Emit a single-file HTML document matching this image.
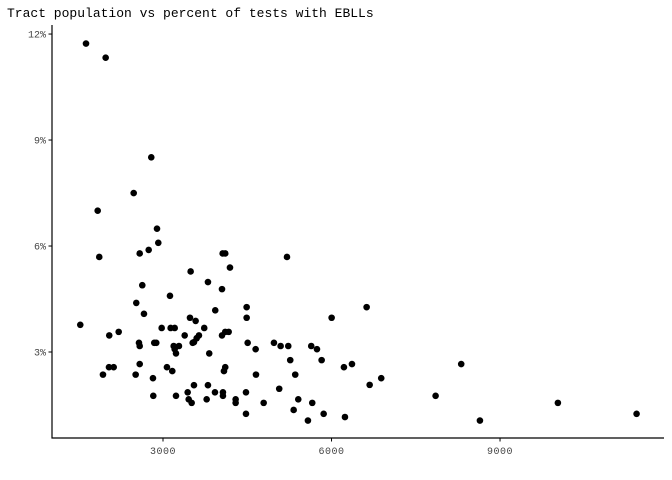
<!DOCTYPE html>
<html><head><meta charset="utf-8">
<style>
html,body{margin:0;padding:0;background:#fff;}
svg{display:block;}
</style></head>
<body>
<svg id="chart" width="672" height="480" xmlns="http://www.w3.org/2000/svg">
<text x="7" y="17" font-family="Liberation Mono, monospace" font-size="13" fill="#000">Tract population vs percent of tests with EBLLs</text>
<line x1="52" y1="25" x2="52" y2="438.5" stroke="#000" stroke-width="1.2"/>
<line x1="51.5" y1="438" x2="664" y2="438" stroke="#000" stroke-width="1.2"/>
<g id="ticks"></g>
<g id="points"></g>
</svg>
<script>
const popX = [1629,1979,2791,2478,1837,2893,2916,2745,2585,1865,4062,4108,5207,3492,4192,3800,4050,2631,2524,3124,2661,3930,4489,4489,1527,2211,2043,2976,3136,3208,3480,3581,3734,3386,3640,3599,3551,3528,4050,4108,4169,2572,2585,2844,2880,3190,3284,3208,3231,3823,4507,4649,4975,5094,5230,5639,5741,6002,5265,5824,2038,2122,1931,2585,2513,2821,3070,3165,4108,4085,4655,5354,6221,6364,3551,3800,2827,3231,3439,3457,3510,3777,3925,4067,4067,4293,4293,4477,4477,4792,5069,5326,5408,5657,5860,5580,6239,6625,6679,6885,7853,8309,8642,10030,11431];
const pctY = [11.73,11.33,8.51,7.50,7.00,6.49,6.09,5.89,5.79,5.69,5.79,5.79,5.69,5.28,5.39,4.98,4.78,4.89,4.39,4.59,4.08,4.18,4.27,3.97,3.77,3.57,3.47,3.68,3.68,3.68,3.97,3.88,3.68,3.47,3.47,3.39,3.28,3.26,3.47,3.57,3.57,3.26,3.17,3.26,3.26,3.17,3.17,3.08,2.96,2.96,3.26,3.08,3.26,3.17,3.17,3.17,3.08,3.97,2.77,2.77,2.57,2.57,2.36,2.66,2.36,2.26,2.57,2.46,2.57,2.46,2.36,2.36,2.57,2.66,2.06,2.06,1.76,1.76,1.86,1.66,1.56,1.66,1.86,1.86,1.76,1.66,1.56,1.86,1.25,1.56,1.96,1.36,1.66,1.56,1.25,1.06,1.16,4.27,2.07,2.26,1.76,2.66,1.06,1.56,1.25];
const xTicks = [3000,6000,9000];
const yTicks = [3,6,9,12];
const yTickLabels = ["3%","6%","9%","12%"];

function sx(v){return -5.5 + v*0.05617;}
function sy(p){return 458 - p*35.33;}
const NS="http://www.w3.org/2000/svg";
const tg=document.getElementById('ticks');
xTicks.forEach(function(t){
  const x=sx(t);
  const l=document.createElementNS(NS,'line');
  l.setAttribute('x1',x);l.setAttribute('x2',x);l.setAttribute('y1',438);l.setAttribute('y2',441.5);
  l.setAttribute('stroke','#000');
  
  
  tg.appendChild(l);
  const tx=document.createElementNS(NS,'text');
  tx.setAttribute('x',x);tx.setAttribute('y',454);tx.setAttribute('text-anchor','middle');
  tx.setAttribute('font-family','Liberation Mono, monospace');tx.setAttribute('font-size','10');tx.setAttribute('fill','#444');
  tx.setAttribute('letter-spacing','0.5');
  tx.textContent=String(t);
  
  
  tg.appendChild(tx);
});
yTicks.forEach(function(t,i){
  const y=sy(t);
  const l=document.createElementNS(NS,'line');
  l.setAttribute('x1',48.5);l.setAttribute('x2',52);l.setAttribute('y1',y);l.setAttribute('y2',y);
  l.setAttribute('stroke','#000');
  
  
  tg.appendChild(l);
  const tx=document.createElementNS(NS,'text');
  tx.setAttribute('x',46);tx.setAttribute('y',y+3.5);tx.setAttribute('text-anchor','end');
  tx.setAttribute('font-family','Liberation Mono, monospace');tx.setAttribute('font-size','10');tx.setAttribute('fill','#444');
  tx.textContent=yTickLabels[i];
  
  
  tg.appendChild(tx);
});
const pg=document.getElementById('points');
popX.forEach(function(v,i){
  const c=document.createElementNS(NS,'circle');
  c.setAttribute('cx',sx(v));c.setAttribute('cy',sy(pctY[i]));c.setAttribute('r',3.3);
  c.setAttribute('fill','#000');
  
  
  pg.appendChild(c);
});
</script>
</body></html>
